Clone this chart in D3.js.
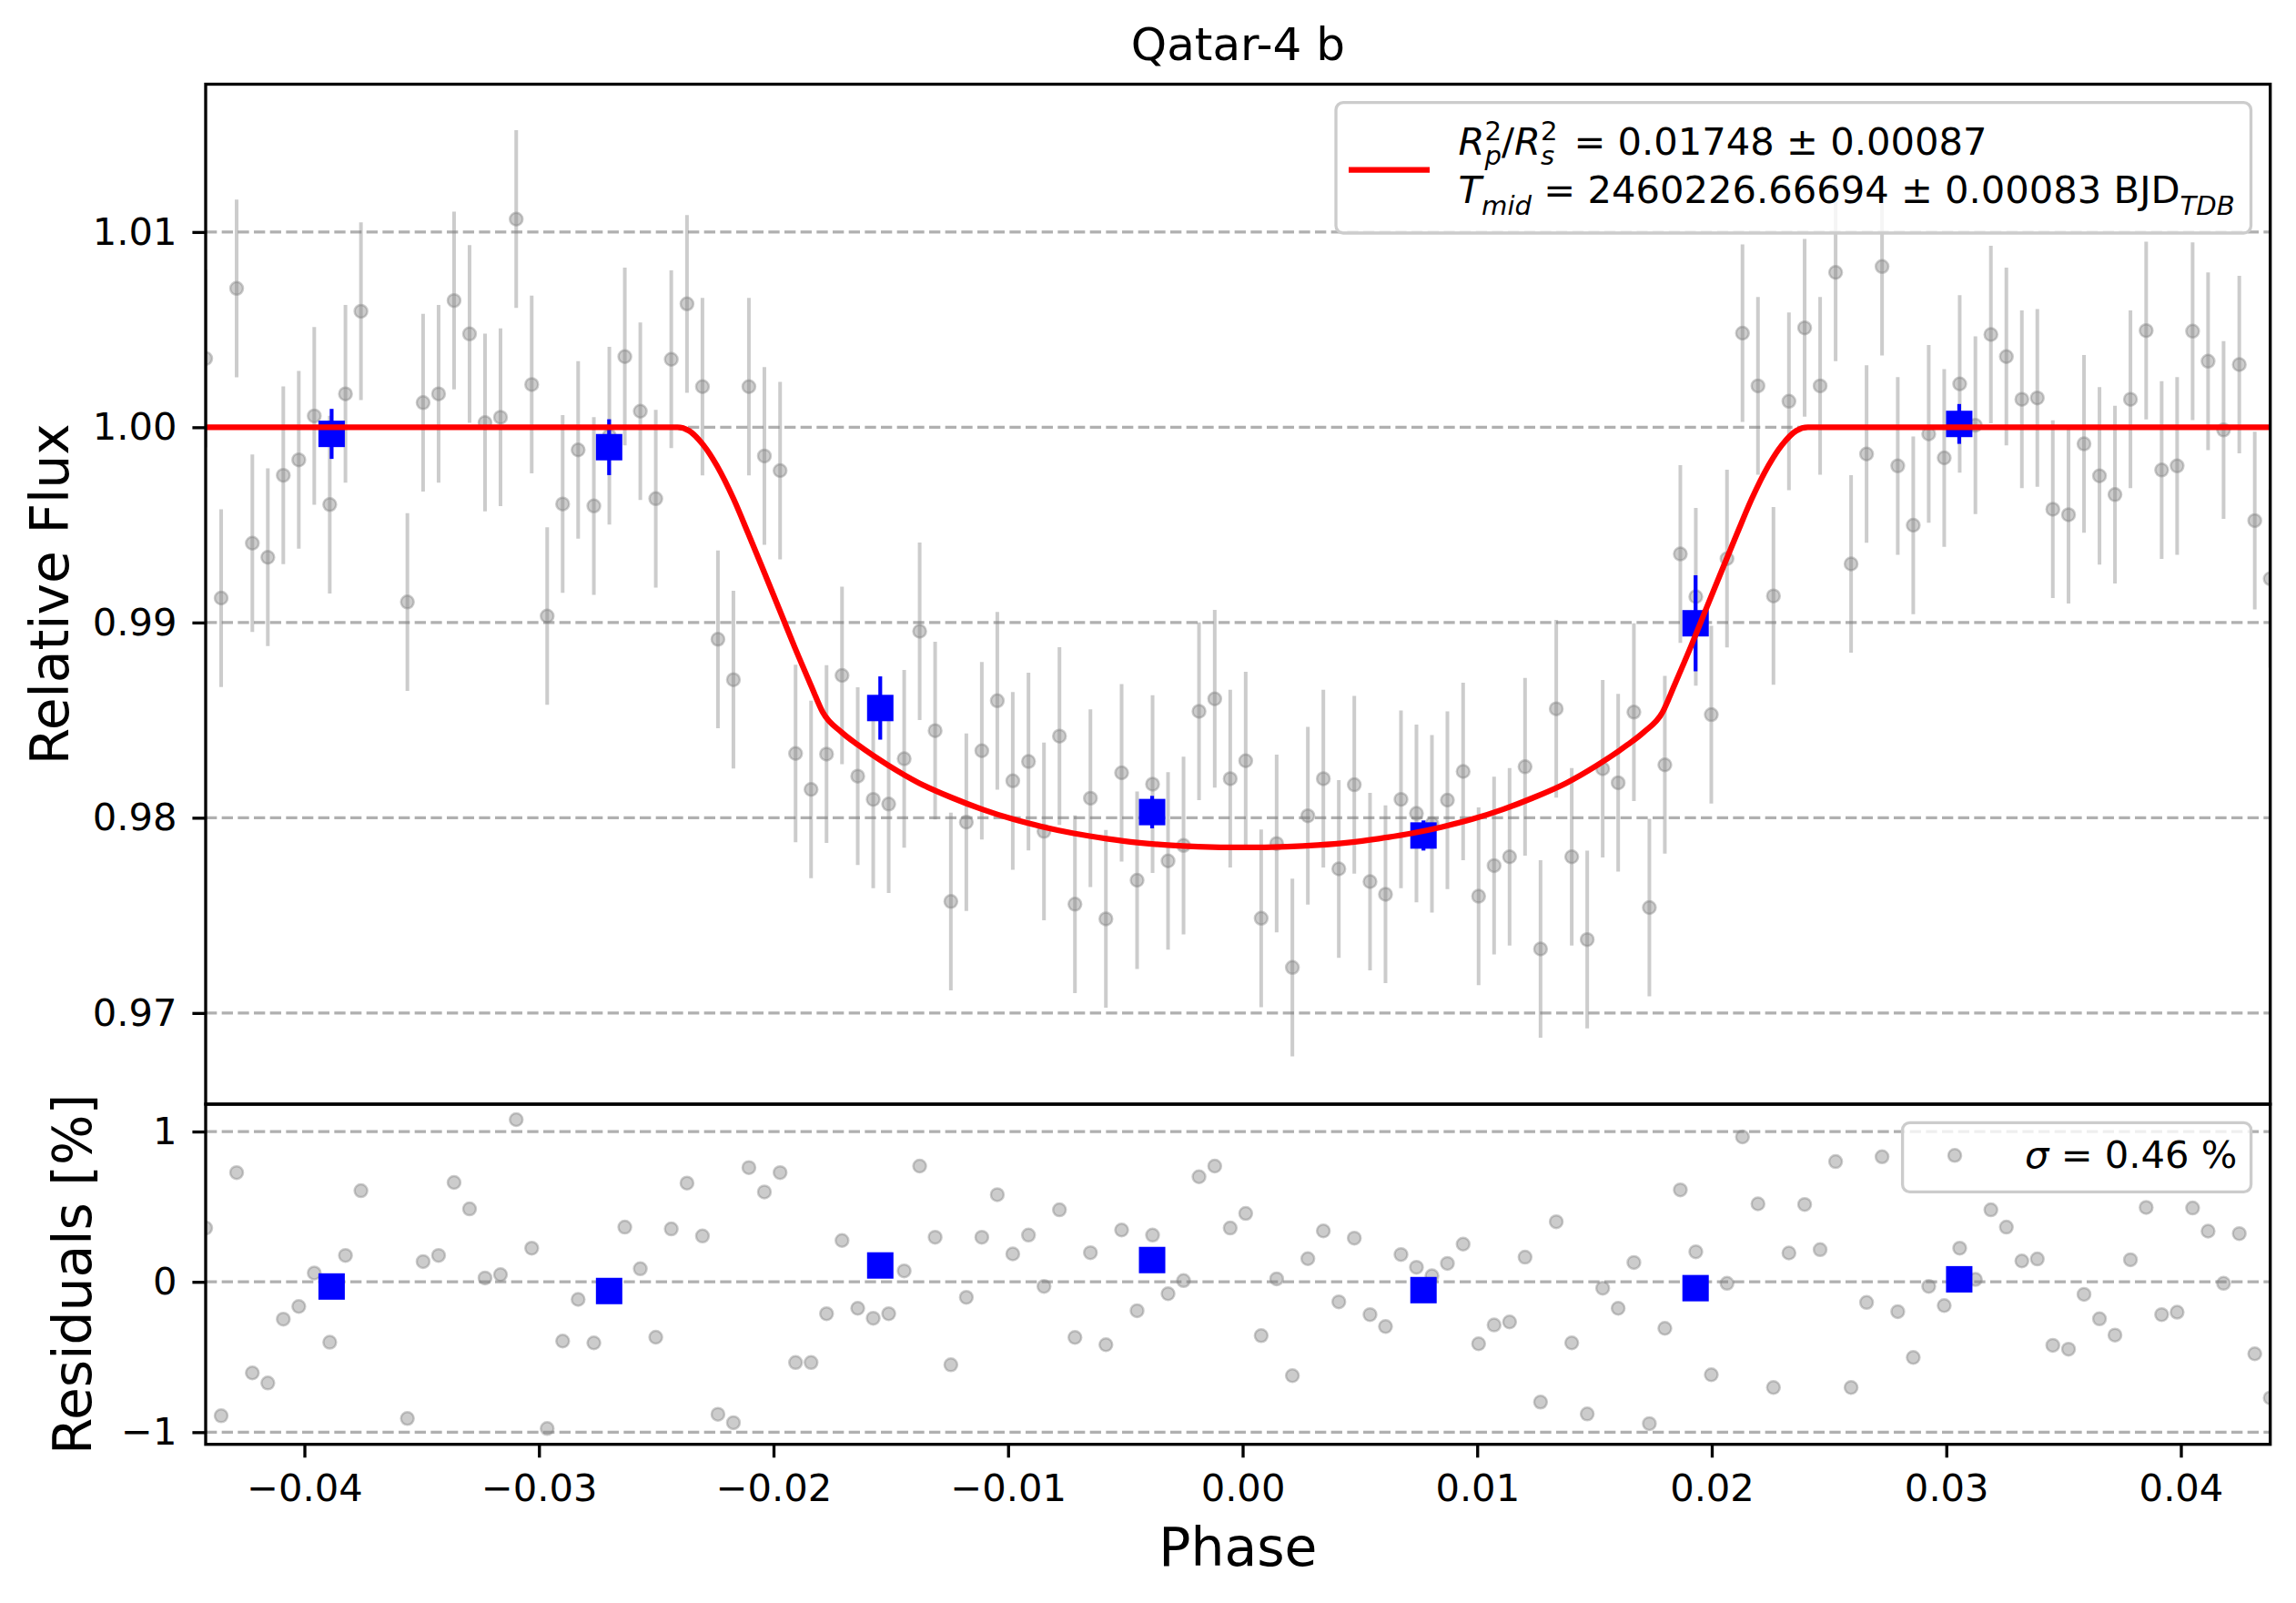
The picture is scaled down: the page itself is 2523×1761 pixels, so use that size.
<!DOCTYPE html>
<html><head><meta charset="utf-8">
<script src="https://cdn.jsdelivr.net/npm/d3@7"></script>
<style>
body{margin:0;background:#fff}
svg{display:block}
text{font-family:"DejaVu Sans",sans-serif;fill:#000;white-space:pre}
</style>
</head><body>
<svg id="chart" width="2523" height="1761"></svg>
<script>
// ---------------- data ----------------
const phase = [
-0.04421,-0.04355,-0.04289,-0.04222,-0.04156,-0.04090,-0.04024,-0.03958,-0.03892,-0.03825,-0.03759,
-0.03561,-0.03494,-0.03428,-0.03362,-0.03296,-0.03230,-0.03164,-0.03097,-0.03031,-0.02965,
-0.02899,-0.02833,-0.02766,-0.02700,-0.02634,-0.02568,-0.02502,-0.02436,-0.02369,-0.02303,
-0.02237,-0.02171,-0.02105,-0.02039,-0.01972,-0.01906,-0.01840,-0.01774,-0.01708,-0.01641,
-0.01575,-0.01509,-0.01443,-0.01377,-0.01311,-0.01244,-0.01178,-0.01112,-0.01046,-0.00980,
-0.00913,-0.00847,-0.00781,-0.00715,-0.00649,-0.00583,-0.00516,-0.00450,-0.00384,-0.00318,
-0.00252,-0.00186,-0.00119,-0.00053,0.00013,0.00079,0.00145,0.00212,0.00278,0.00344,
0.00410,0.00476,0.00543,0.00609,0.00675,0.00741,0.00807,0.00873,0.00940,0.01006,
0.01072,0.01138,0.01204,0.01270,0.01337,0.01403,0.01469,0.01535,0.01601,0.01668,
0.01734,0.01800,0.01866,0.01932,0.01998,0.02065,0.02131,0.02197,0.02263,0.02329,
0.02396,0.02462,0.02528,0.02594,0.02660,0.02726,0.02793,0.02859,0.02925,0.02991,
0.03057,0.03124,0.03190,0.03256,0.03322,0.03388,0.03454,0.03521,0.03587,0.03653,
0.03719,0.03785,0.03852,0.03918,0.03984,0.04050,0.04116,0.04182,0.04249,0.04315,
0.04381];

const flux = [
1.00352,0.99125,1.00711,0.99406,0.99334,0.99754,0.99833,1.00058,0.99604,1.00171,1.00594,
0.99105,1.00126,1.00171,1.00649,1.00478,1.00024,1.00051,1.01066,1.00219,0.99033,
0.99607,0.99884,0.99597,0.99957,1.00362,1.00082,0.99634,1.00348,1.00632,1.00208,
0.98914,0.98707,1.00208,0.99853,0.99778,0.98329,0.98145,0.98326,0.98729,0.98213,
0.98094,0.98070,0.98302,0.98955,0.98446,0.97571,0.97977,0.98343,0.98599,0.98189,
0.98288,0.97930,0.98418,0.97557,0.98100,0.97482,0.98230,0.97680,0.98172,0.97779,
0.97858,0.98545,0.98609,0.98200,0.98292,0.97485,0.97868,0.97233,0.98010,0.98200,
0.97738,0.98169,0.97673,0.97608,0.98094,0.98022,0.97969,0.98090,0.98237,0.97598,
0.97755,0.97800,0.98261,0.97328,0.98558,0.97800,0.97376,0.98251,0.98179,0.98541,
0.97540,0.98271,0.99351,0.99132,0.98528,0.99327,1.00482,1.00212,0.99136,1.00133,
1.00509,1.00212,1.00793,0.99300,0.99863,1.00823,0.99802,0.99498,0.99966,0.99843,
1.00222,1.00010,1.00475,1.00362,1.00143,1.00150,0.99580,0.99552,0.99915,0.99751,
0.99655,1.00143,1.00495,0.99781,0.99802,1.00492,1.00338,0.99986,1.00321,0.99522,
0.99224];

const residual = [
0.358,-0.891,0.727,-0.606,-0.673,-0.248,-0.164,0.059,-0.402,0.176,0.606,
-0.909,0.135,0.176,0.661,0.485,0.026,0.048,1.079,0.224,-0.976,
-0.394,-0.117,-0.406,-0.043,0.364,0.087,-0.368,0.352,0.657,0.305,
-0.881,-0.937,0.760,0.598,0.727,-0.537,-0.537,-0.212,0.275,-0.176,
-0.242,-0.212,0.073,0.770,0.297,-0.552,-0.103,0.297,0.580,0.186,
0.311,-0.030,0.479,-0.370,0.194,-0.418,0.345,-0.192,0.311,-0.079,
0.008,0.699,0.770,0.358,0.455,-0.358,0.020,-0.624,0.154,0.339,
-0.133,0.291,-0.218,-0.297,0.182,0.097,0.040,0.123,0.251,-0.412,
-0.287,-0.267,0.164,-0.800,0.400,-0.406,-0.879,-0.042,-0.176,0.129,
-0.943,-0.309,0.612,0.200,-0.618,-0.010,0.964,0.519,-0.703,0.192,
0.515,0.214,0.800,-0.703,-0.137,0.832,-0.198,-0.503,-0.030,-0.158,
0.224,0.016,0.479,0.364,0.139,0.152,-0.422,-0.448,-0.083,-0.246,
-0.354,0.147,0.495,-0.218,-0.202,0.491,0.337,-0.010,0.321,-0.479,
-0.772];

const fluxErr = 0.00455;

const binPhase    = [-0.03884,-0.02701,-0.01545,-0.00386,0.00771,0.01931,0.03055];
const binFlux     = [0.99966,0.99898,0.98562,0.98029,0.97909,0.98996,1.00017];
const binErr      = [0.00128,0.00143,0.00162,0.00083,0.00077,0.00246,0.00102];
const binResidual = [-0.031,-0.061,0.109,0.145,-0.055,-0.042,0.017];

const modelPhase = [
-0.04421,-0.0241,-0.0236,-0.0230,-0.0224,-0.0217,-0.0211,-0.0204,-0.0197,-0.0191,-0.0184,-0.0179,
-0.0171,-0.0164,-0.0151,-0.0138,-0.0124,-0.0111,-0.0098,-0.0085,-0.0072,-0.0058,-0.0045,-0.0032,-0.0019,
0.0000,
0.0019,0.0032,0.0045,0.0058,0.0072,0.0085,0.0098,0.0111,0.0124,0.0138,0.0151,0.0164,0.0171,
0.0179,0.0184,0.0191,0.0197,0.0204,0.0211,0.0217,0.0224,0.0230,0.0236,0.0241,0.04381];
const modelFlux = [
1.00000,1.00000,0.99982,0.99910,0.99800,0.99632,0.99462,0.99258,0.99052,0.98874,0.98677,0.98540,
0.98438,0.98373,0.98268,0.98178,0.98103,0.98043,0.97993,0.97953,0.97920,0.97893,0.97873,0.97860,0.97852,
0.97848,
0.97852,0.97860,0.97873,0.97893,0.97920,0.97953,0.97993,0.98043,0.98103,0.98178,0.98268,0.98373,0.98438,
0.98540,0.98677,0.98874,0.99052,0.99258,0.99462,0.99632,0.99800,0.99910,0.99982,1.00000,1.00000];

const xTicks = [-0.04,-0.03,-0.02,-0.01,0.00,0.01,0.02,0.03,0.04];
const fluxTicks = [0.97,0.98,0.99,1.00,1.01];
const residualTicks = [-1,0,1];

const titleText = "Qatar-4 b";
const xLabel = "Phase";
const yLabelTop = "Relative Flux";
const yLabelBottom = "Residuals [%]";

// ---------------- layout ----------------
const L = 226, R = 2494.7;
const T1 = 92.5, B1 = 1213, T2 = 1213, B2 = 1586.7;
const PT = 300/72;              // one typographic point in pixels
const tickFont = 10*PT, labelFont = 14*PT, titleFont = 12*PT;
const tickLen = 3.5*PT, lw = 0.8*PT;

const svg = d3.select("#chart");
svg.append("rect").attr("width",2523).attr("height",1761).attr("fill","#fff");

const x  = d3.scaleLinear().domain([-0.04421, 0.04381]).range([L, R]);
const yF = d3.scaleLinear().domain([0.96533, 1.01757]).range([B1, T1]);
const yR = d3.scaleLinear().domain([-1.081, 1.182]).range([B2, T2]);

const defs = svg.append("defs");
defs.append("clipPath").attr("id","clipTop").append("rect")
  .attr("x",L).attr("y",T1).attr("width",R-L).attr("height",B1-T1);
defs.append("clipPath").attr("id","clipBot").append("rect")
  .attr("x",L).attr("y",T2).attr("width",R-L).attr("height",B2-T2);

const pts = phase.map((p,i)=>({p, f:flux[i], r:residual[i]}));
const bins = binPhase.map((p,i)=>({p, f:binFlux[i], e:binErr[i], r:binResidual[i]}));

const gray = "rgba(128,128,128,0.4)";

// ---------- gridlines ----------
function grid(g, scale, ticks){
  g.selectAll("line.grid").data(ticks).join("line")
    .attr("x1",L).attr("x2",R)
    .attr("y1",d=>scale(d)).attr("y2",d=>scale(d))
    .attr("stroke","#b0b0b0").attr("stroke-width",lw)
    .attr("stroke-dasharray",`${3.7*lw},${1.6*lw}`);
}
grid(svg.append("g"), yF, fluxTicks);
grid(svg.append("g"), yR, residualTicks);

// ---------- top panel ----------
const gTop = svg.append("g").attr("clip-path","url(#clipTop)");
gTop.append("g").selectAll("line").data(pts).join("line")
  .attr("x1",d=>x(d.p)).attr("x2",d=>x(d.p))
  .attr("y1",d=>yF(d.f-fluxErr)).attr("y2",d=>yF(d.f+fluxErr))
  .attr("stroke",gray).attr("stroke-width",4);
gTop.append("g").selectAll("circle").data(pts).join("circle")
  .attr("cx",d=>x(d.p)).attr("cy",d=>yF(d.f)).attr("r",7)
  .attr("fill",gray).attr("stroke",gray).attr("stroke-width",2.5);

gTop.append("g").selectAll("line").data(bins).join("line")
  .attr("x1",d=>x(d.p)).attr("x2",d=>x(d.p))
  .attr("y1",d=>yF(d.f-d.e)).attr("y2",d=>yF(d.f+d.e))
  .attr("stroke","#0000ff").attr("stroke-width",4.2);
const sq = 29;
gTop.append("g").selectAll("rect").data(bins).join("rect")
  .attr("x",d=>x(d.p)-sq/2).attr("y",d=>yF(d.f)-sq/2)
  .attr("width",sq).attr("height",sq).attr("fill","#0000ff");

const model = modelPhase.map((p,i)=>[p, modelFlux[i]]);
gTop.append("path").datum(model)
  .attr("d", d3.line().x(d=>x(d[0])).y(d=>yF(d[1])).curve(d3.curveMonotoneX))
  .attr("fill","none").attr("stroke","#ff0000").attr("stroke-width",1.5*PT)
  .attr("stroke-linejoin","round");

// ---------- bottom panel ----------
const gBot = svg.append("g").attr("clip-path","url(#clipBot)");
gBot.append("g").selectAll("circle").data(pts).join("circle")
  .attr("cx",d=>x(d.p)).attr("cy",d=>yR(d.r)).attr("r",7)
  .attr("fill",gray).attr("stroke",gray).attr("stroke-width",2.5);
gBot.append("g").selectAll("rect").data(bins).join("rect")
  .attr("x",d=>x(d.p)-sq/2).attr("y",d=>yR(d.r)-sq/2)
  .attr("width",sq).attr("height",sq).attr("fill","#0000ff");

// ---------- spines ----------
[[T1,B1],[T2,B2]].forEach(([t,b])=>{
  svg.append("rect").attr("x",L).attr("y",t).attr("width",R-L).attr("height",b-t)
    .attr("fill","none").attr("stroke","#000").attr("stroke-width",lw);
});

// ---------- axes ----------
function styleAxis(g){
  g.select(".domain").remove();
  g.selectAll(".tick line").attr("stroke","#000").attr("stroke-width",lw);
  g.selectAll(".tick text").attr("font-size",tickFont).attr("font-family","DejaVu Sans").attr("fill","#000");
}
svg.append("g").attr("transform",`translate(${L},0)`)
  .call(d3.axisLeft(yF).tickValues(fluxTicks).tickFormat(d3.format(".2f"))
    .tickSize(tickLen).tickPadding(17).tickSizeOuter(0))
  .call(styleAxis);
svg.append("g").attr("transform",`translate(${L},0)`)
  .call(d3.axisLeft(yR).tickValues(residualTicks).tickFormat(d3.format("d"))
    .tickSize(tickLen).tickPadding(17).tickSizeOuter(0))
  .call(styleAxis);
svg.append("g").attr("transform",`translate(0,${B2})`)
  .call(d3.axisBottom(x).tickValues(xTicks).tickFormat(d3.format(".2f"))
    .tickSize(tickLen).tickPadding(18).tickSizeOuter(0))
  .call(styleAxis);

// ---------- labels ----------
svg.append("text").attr("x",(L+R)/2).attr("y",66).attr("text-anchor","middle")
  .attr("font-size",titleFont).text(titleText);
svg.append("text").attr("x",(L+R)/2).attr("y",1720).attr("text-anchor","middle")
  .attr("font-size",labelFont).text(xLabel);
svg.append("text").attr("transform",`translate(75,${(T1+B1)/2}) rotate(-90)`)
  .attr("text-anchor","middle").attr("font-size",labelFont).text(yLabelTop);
svg.append("text").attr("transform",`translate(100,${(T2+B2)/2}) rotate(-90)`)
  .attr("text-anchor","middle").attr("font-size",labelFont).text(yLabelBottom);

// ---------- legend (top) ----------
const lg = svg.append("g");
lg.append("rect").attr("x",1468).attr("y",112.7).attr("width",1005.5).attr("height",143.3)
  .attr("rx",8).attr("fill","rgba(255,255,255,0.8)").attr("stroke","#cccccc").attr("stroke-width",lw);
lg.append("line").attr("x1",1482).attr("x2",1571).attr("y1",186.5).attr("y2",186.5)
  .attr("stroke","#ff0000").attr("stroke-width",1.5*PT);
const small = tickFont*0.7;
const t1 = lg.append("text").attr("x",1602.6).attr("y",170).attr("font-size",tickFont);
t1.append("tspan").attr("font-style","italic").text("R");
t1.append("tspan").attr("font-size",small).attr("dy",-16).text("2");
t1.append("tspan").attr("font-size",small).attr("font-style","italic").attr("dx",-18.6).attr("dy",27).text("p");
t1.append("tspan").attr("dy",-11).text("/");
t1.append("tspan").attr("font-style","italic").text("R");
t1.append("tspan").attr("font-size",small).attr("dy",-16).text("2");
t1.append("tspan").attr("font-size",small).attr("font-style","italic").attr("dx",-18.6).attr("dy",27).text("s");
t1.append("tspan").attr("dy",-11).attr("dx",8).text(" = 0.01748 \u00b1 0.00087");

const t2 = lg.append("text").attr("x",1602.6).attr("y",222.7).attr("font-size",tickFont);
t2.append("tspan").attr("font-style","italic").text("T");
t2.append("tspan").attr("font-size",small).attr("font-style","italic").attr("dy",13).text("mid");
t2.append("tspan").attr("dy",-13).text(" = 2460226.66694 \u00b1 0.00083 BJD");
t2.append("tspan").attr("font-size",small).attr("font-style","italic").attr("dy",13).text("TDB");

// ---------- legend (residuals) ----------
const lr = svg.append("g");
lr.append("rect").attr("x",2090.6).attr("y",1233.3).attr("width",383).attr("height",76)
  .attr("rx",8).attr("fill","rgba(255,255,255,0.8)").attr("stroke","#cccccc").attr("stroke-width",lw);
lr.append("circle").attr("cx",2148).attr("cy",1269.3).attr("r",7)
  .attr("fill",gray).attr("stroke",gray).attr("stroke-width",2.5);
const t3 = lr.append("text").attr("x",2225).attr("y",1283.3).attr("font-size",tickFont);
t3.append("tspan").attr("font-style","italic").text("\u03c3");
t3.append("tspan").text(" = 0.46 %");
</script>
</body></html>
